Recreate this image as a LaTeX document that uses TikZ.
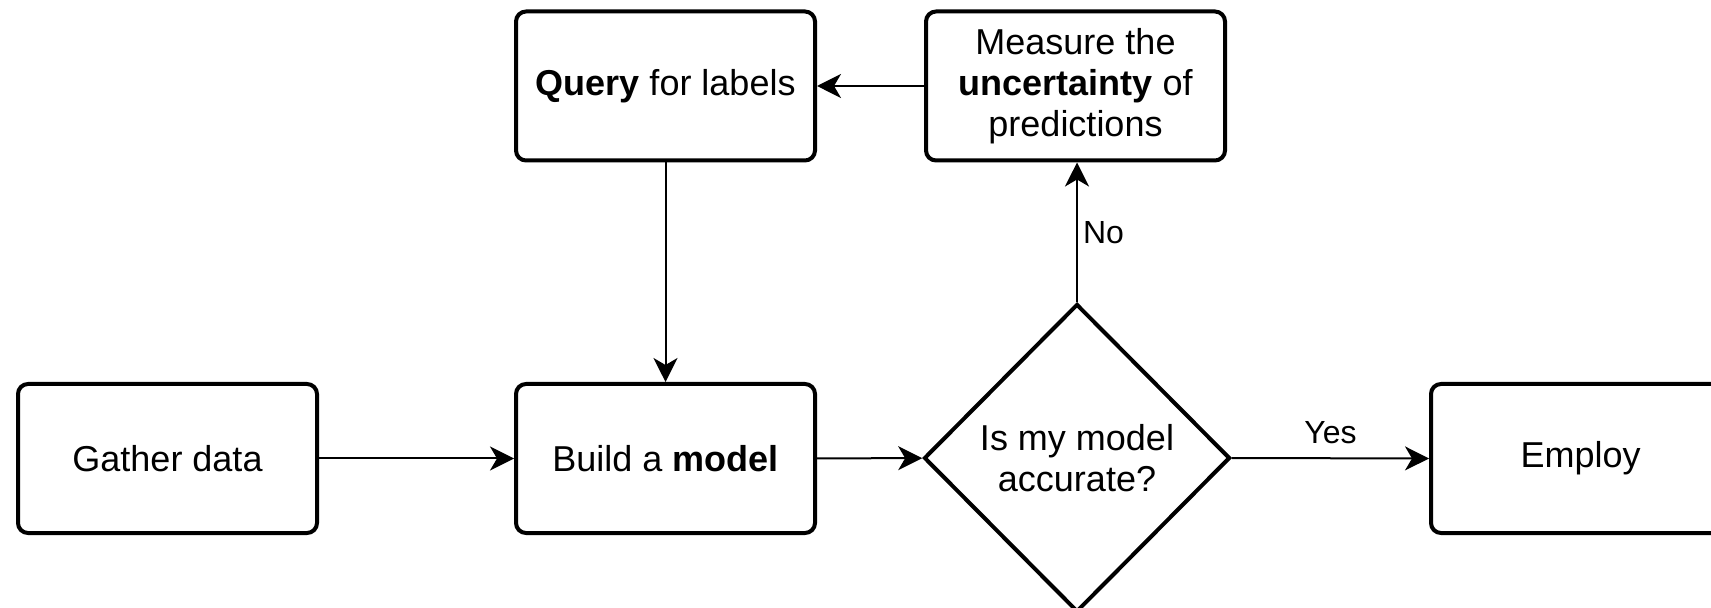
\documentclass[tikz,border=0pt]{standalone}
\usepackage{fontspec}
\setmainfont{Liberation Sans}
\usetikzlibrary{arrows.meta,shapes.geometric}

\tikzset{
  stepbox/.style={draw, line width=2pt, rounded corners=5pt, fill=white,
    minimum width=149.5pt, minimum height=74.5pt, inner sep=2pt,
    align=center, font=\fontsize{18}{20.5}\selectfont},
  decision/.style={draw, diamond, line width=2pt, fill=white, aspect=1,
    minimum width=153pt, minimum height=154pt, inner sep=0pt,
    align=center, font=\fontsize{18}{20.5}\selectfont},
  flow/.style={line width=1pt,
    -{Stealth[length=12pt, width=12pt, inset=3.5pt]}},
  tag/.style={font=\fontsize{16}{18}\selectfont}
}

\begin{document}
\begin{tikzpicture}[x=0.5pt, y=-0.5pt]
  \useasboundingbox (0,0) rectangle (1711,608);
  \clip (0,0) rectangle (1711,608);

  % process steps
  \node[stepbox] (gather)  at (167.5, 458.5) {Gather data};
  \node[stepbox] (build)   at (665.5, 458.5) {Build a \textbf{model}};
  \node[stepbox] (query)   at (665.5, 86)    {\textbf{Query} for labels};
  \node[stepbox] (measure) at (1075.5, 86)
    {Measure the\\ \textbf{uncertainty} of\\ predictions};
  \node[stepbox] (employ)  at (1580.5, 458.5) {Employ};

  % decision
  \node[decision] (accurate) at (1077, 458) {Is my model\\ accurate?};

  % connectors
  \draw[flow] (gather) -- (build);
  \draw[flow] (build) -- (accurate);
  \draw[flow] (accurate.east) -- node[tag, above, inner sep=6.5pt] {Yes} (employ.west);
  \draw[flow] (accurate.north) -- node[tag, right, inner sep=2.5pt] {No} (measure.south -| accurate.north);
  \draw[flow] (measure) -- (query);
  \draw[flow] (query) -- (build);
\end{tikzpicture}
\end{document}
